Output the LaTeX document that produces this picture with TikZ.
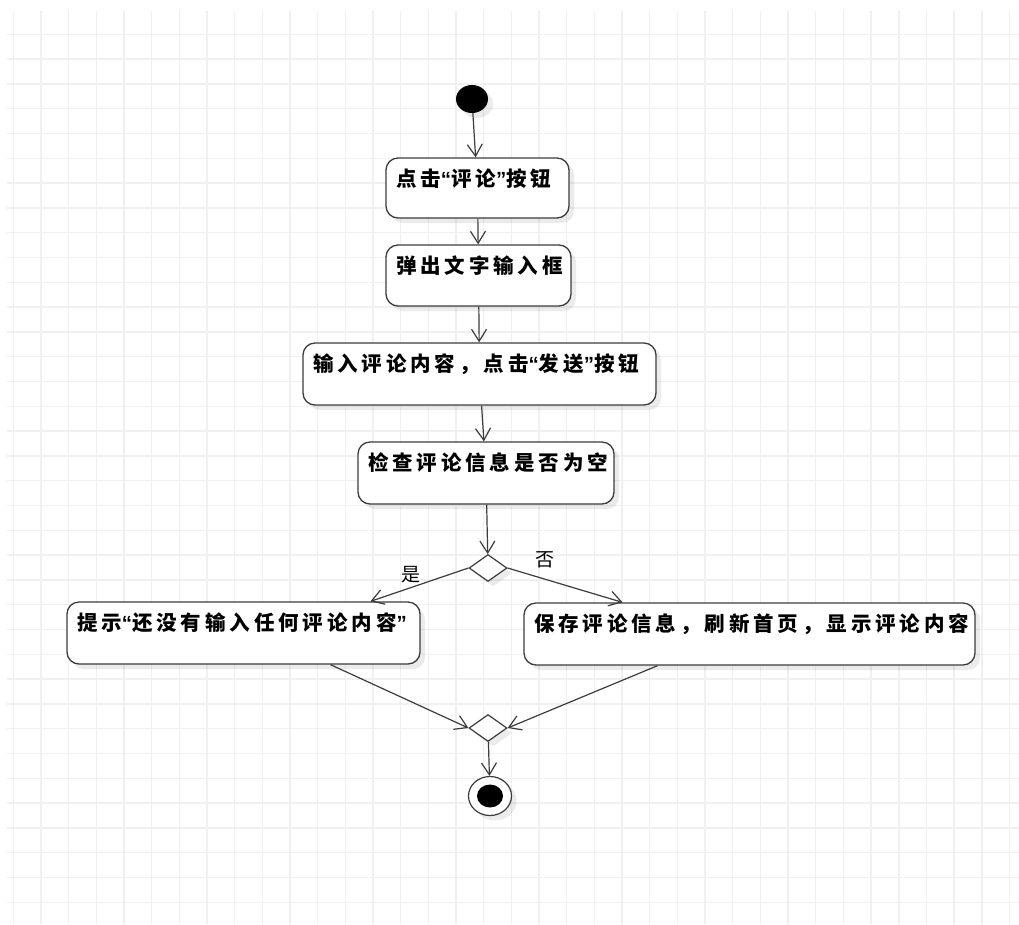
\documentclass[tikz,border=0pt]{standalone}
\usepackage{fontspec}
\newfontfamily\cjk{Noto Sans CJK SC}
\newfontfamily\cjkwide[LetterSpace=19]{Noto Sans CJK SC}
\newfontfamily\quotefont[LetterSpace=19]{Liberation Sans}
\newcommand\qm[1]{{\quotefont #1}}
\usetikzlibrary{arrows.meta, shapes.geometric, shadows}
\hfuzz=40pt
\definecolor{linec}{HTML}{3C3C3C}
\definecolor{gridc}{HTML}{F0F0F0}
\tikzset{
  act/.style={draw=linec, line width=1.3pt, rounded corners=12pt, fill=white, align=left,
    font=\cjkwide\bfseries\fontsize{20.5}{24}\selectfont, inner xsep=10pt, inner ysep=0pt,
    text height=28pt, text depth=34pt,
    drop shadow={shadow xshift=5pt, shadow yshift=-5pt, fill=black, opacity=.08}},
  dec/.style={diamond, draw=linec, line width=1.2pt, fill=white, inner sep=0pt,
    minimum width=38pt, minimum height=27pt,
    drop shadow={shadow xshift=5pt, shadow yshift=-5pt, fill=black, opacity=.08}},
  flow/.style={->, color=linec, line width=1.2pt},
  guard/.style={font=\cjk\fontsize{19}{22}\selectfont, text=black, inner sep=0pt}
}
\begin{document}
\begin{tikzpicture}[x=1pt, y=-1pt, >={Straight Barb[length=12pt, width=15pt]}]
  \fill[white] (0,0) rectangle (1019,924);
  \useasboundingbox (0,0) rectangle (1019,924);
  % grid
  \foreach \i in {0,...,36}
    \draw[gridc, line width=1.5pt] ({13.3+27.67*\i},11) -- ({13.3+27.67*\i},924);
  \foreach \j in {0,...,35}
    \draw[gridc, line width=1.5pt] (7,{34.3+24.8*\j}) -- (1019,{34.3+24.8*\j});

  \node[ellipse, fill=black, minimum width=32pt, minimum height=28pt, inner sep=0pt,
    drop shadow={shadow xshift=5pt, shadow yshift=-5pt, fill=black, opacity=.08}] (start) at (472,99) {};
  \node[act, text width=163pt, text depth=32pt] (b1) at (477.5,188) {点击\qm{“}评论\qm{”}按钮};
  \node[act, text width=165pt, text depth=33pt] (b2) at (478.5,275.5) {弹出文字输入框};
  \node[act, text width=333pt] (b3) at (479.5,374) {输入评论内容，点击\qm{“}发送\qm{”}按钮};
  \node[act, text width=236pt] (b4) at (486,473) {检查评论信息是否为空};
  \node[dec] (d1) at (488,568) {};
  \node[act, text width=333pt] (b5) at (243.5,633) {提示\qm{“}还没有输入任何评论内容\qm{”}};
  \node[act, text width=431pt] (b6) at (749.5,634) {保存评论信息，刷新首页，显示评论内容};
  \node[dec] (d2) at (488,728) {};
  \node[ellipse, draw=linec, line width=1.2pt, fill=white, minimum width=43pt, minimum height=39pt, inner sep=0pt,
    drop shadow={shadow xshift=5pt, shadow yshift=-5pt, fill=black, opacity=.08},
    path picture={\fill[black] (path picture bounding box.center) ellipse [x radius=13pt, y radius=11.5pt];}] (stop) at (490,796) {};
  \node[guard] (yes) at (411,575) {是};
  \node[guard] (no) at (545,560) {否};

  \path[flow]
    (start) edge (b1)
    (b1) edge (b2)
    (b2) edge (b3)
    (b3) edge (b4)
    (b4) edge (d1)
    (d1.west) edge (b5.14.5)
    (d1.east) edge (b6.166.5)
    (b5.-20) edge (d2.west)
    (b6.-161.3) edge (d2.east)
    (d2) edge (stop);
\end{tikzpicture}
\end{document}
